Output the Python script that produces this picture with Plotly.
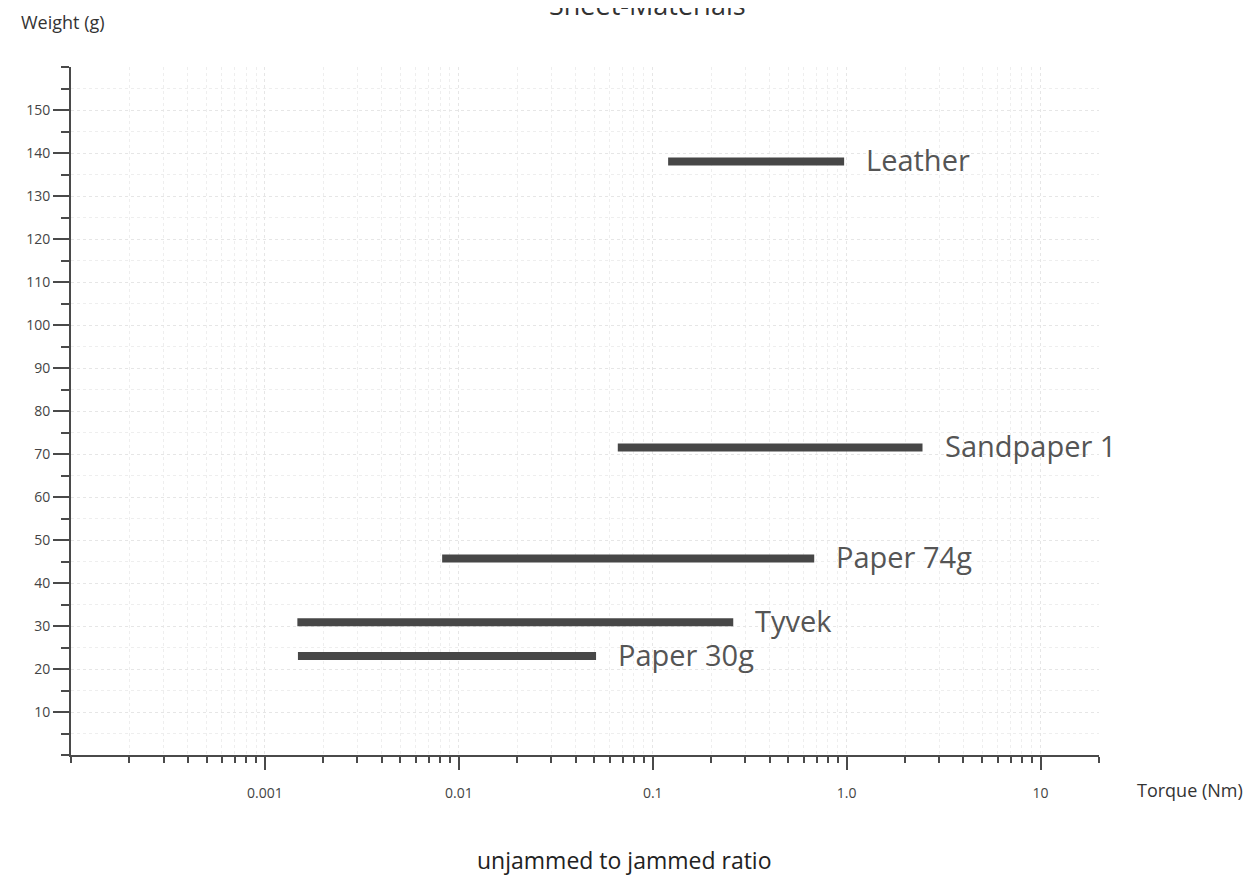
import math

import plotly.graph_objects as go

# data
materials = ["Leather", "Sandpaper 1", "Paper 74g", "Tyvek", "Paper 30g"]
weight_g = [138, 71.5, 45.7, 30.9, 23.0]
torque_start = [0.12, 0.066, 0.0082, 0.00147, 0.00148]
torque_end = [0.97, 2.46, 0.68, 0.26, 0.051]

x_major = [0.001, 0.01, 0.1, 1.0, 10]
x_major_text = ["0.001", "0.01", "0.1", "1.0", "10"]
x_minor = [m * 10.0 ** e for e in range(-4, 2) for m in range(1, 10)] + [20]

AXIS = "#4a4a4a"
BAR = "#474747"
TXT = "#555555"
FONT = "Open Sans"

fig = go.Figure()

for name, w, a, b in zip(materials, weight_g, torque_start, torque_end):
    fig.add_trace(go.Scatter(
        x=[a, b], y=[w, w], mode="lines",
        line=dict(color=BAR, width=8),
        hoverinfo="skip", showlegend=False,
    ))
    fig.add_annotation(
        x=math.log10(b), y=w, xref="x", yref="y", text=name,
        showarrow=False, xanchor="left", yanchor="middle", xshift=20, yshift=2,
        font=dict(family=FONT, size=29, color=TXT),
    )

fig.update_xaxes(
    type="log", range=[-4, math.log10(20)],
    tickvals=x_major, ticktext=x_major_text,
    ticks="outside", ticklen=13, tickwidth=2, tickcolor=AXIS,
    ticklabelstandoff=11,
    tickfont=dict(family=FONT, size=14, color="#444"),
    showline=True, linecolor=AXIS, linewidth=2,
    showgrid=True, gridcolor="#e6e6e6", griddash="dot", gridwidth=1,
    minor=dict(tickvals=x_minor, ticks="outside", ticklen=6, tickwidth=2,
               tickcolor=AXIS, showgrid=True, gridcolor="#eeeeee", griddash="dot"),
    zeroline=False, automargin=False,
)
fig.update_yaxes(
    range=[0, 160], tickvals=list(range(10, 160, 10)),
    ticks="outside", ticklen=16, tickwidth=2, tickcolor=AXIS,
    tickfont=dict(family=FONT, size=14, color="#444"),
    showline=True, linecolor=AXIS, linewidth=2,
    showgrid=True, gridcolor="#e6e6e6", griddash="dot", gridwidth=1,
    minor=dict(dtick=5, ticks="outside", ticklen=8, tickwidth=2,
               tickcolor=AXIS, showgrid=True, gridcolor="#eeeeee", griddash="dot"),
    zeroline=False, automargin=False,
)

fig.add_annotation(x=0.5, y=1.0, xref="paper", yref="paper", xshift=62, yshift=42,
                   text="Sheet-Materials", showarrow=False, yanchor="bottom",
                   font=dict(family=FONT, size=27, color="#333"))
fig.add_annotation(x=0, y=1.0, xref="paper", yref="paper", showarrow=False,
                   text="Weight (g)", xshift=-8, yshift=45, xanchor="center",
                   yanchor="middle", font=dict(family=FONT, size=18, color="#333"))
fig.add_annotation(x=1.0, y=0, xref="paper", yref="paper", showarrow=False,
                   text="Torque (Nm)", xshift=91, yshift=-35, xanchor="center",
                   yanchor="middle", font=dict(family=FONT, size=18, color="#333"))
fig.add_annotation(x=0.538, y=0, xref="paper", yref="paper", showarrow=False,
                   text="unjammed to jammed ratio", yshift=-105, yanchor="middle",
                   font=dict(family=FONT, size=23, color="#222"))

fig.update_layout(
    width=1245, height=877,
    margin=dict(l=63, r=154, t=59, b=130),
    paper_bgcolor="white", plot_bgcolor="white",
    showlegend=False,
)

fig.write_html("out.html", config={"displayModeBar": False})
